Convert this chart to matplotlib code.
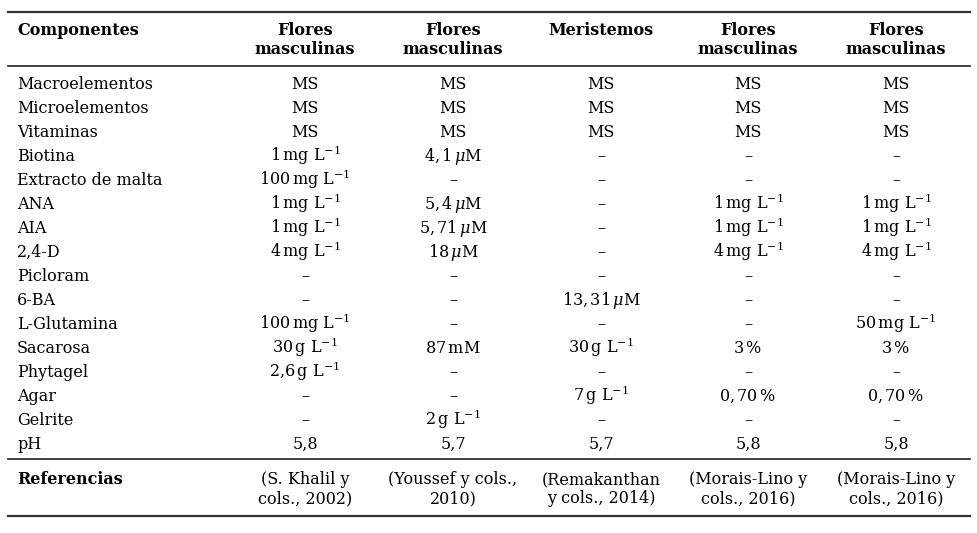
import matplotlib.pyplot as plt

plt.rcParams['font.family'] = ['DejaVu Serif']
plt.rcParams['mathtext.fontset'] = 'dejavuserif'
plt.rcParams['mathtext.default'] = 'regular'

headers = [["Flores", "masculinas"], ["Flores", "masculinas"], ["Meristemos"],
           ["Flores", "masculinas"], ["Flores", "masculinas"]]

componentes = ["Macroelementos", "Microelementos", "Vitaminas", "Biotina",
               "Extracto de malta", "ANA", "AIA", "2,4-D", "Picloram", "6-BA",
               "L-Glutamina", "Sacarosa", "Phytagel", "Agar", "Gelrite", "pH"]

D = "–"
MG = r"$\,$mg L$^{-1}$"
G = r"$\,$g L$^{-1}$"
UM = r"$\,\mathit{\mu}$M"
col1 = ["MS", "MS", "MS", "1" + MG, "100" + MG, "1" + MG, "1" + MG, "4" + MG,
        D, D, "100" + MG, "30" + G, "2,6" + G, D, D, "5,8"]
col2 = ["MS", "MS", "MS", r"4,$\,$1" + UM, D, r"5,$\,$4" + UM, r"5,$\,$71" + UM,
        "18" + UM, D, D, D, r"87$\,$mM", D, D, "2" + G, "5,7"]
col3 = ["MS", "MS", "MS", D, D, D, D, D, D, r"13,$\,$31" + UM, D, "30" + G,
        D, "7" + G, D, "5,7"]
col4 = ["MS", "MS", "MS", D, D, "1" + MG, "1" + MG, "4" + MG,
        D, D, D, r"3$\,$%", D, r"0,$\,$70$\,$%", D, "5,8"]
col5 = ["MS", "MS", "MS", D, D, "1" + MG, "1" + MG, "4" + MG,
        D, D, "50" + MG, r"3$\,$%", D, r"0,$\,$70$\,$%", D, "5,8"]
columnas = [col1, col2, col3, col4, col5]

referencias = [["(S. Khalil y", "cols., 2002)"], ["(Youssef y cols.,", "2010)"],
               ["(Remakanthan", "y cols., 2014)"], ["(Morais-Lino y", "cols., 2016)"],
               ["(Morais-Lino y", "cols., 2016)"]]

fig = plt.figure(figsize=(9.78, 5.33), dpi=100)
ax = fig.add_axes([0, 0, 1, 1])
ax.set_xlim(0, 978)
ax.set_ylim(533, 0)
ax.axis('off')

fs = 11.5
x_label = 17
x_cols = [305, 453, 601, 748, 896]
row0 = 89
step = 24

ax.plot([8, 970], [12, 12], color='#333', lw=1.6)
ax.plot([8, 970], [66, 66], color='#333', lw=1.3)
ax.plot([8, 970], [459, 459], color='#333', lw=1.3)
ax.plot([8, 970], [516, 516], color='#333', lw=1.6)

ax.text(x_label, 35, "Componentes", fontsize=fs, fontweight='bold', va='baseline')
for x, h in zip(x_cols, headers):
    for k, line in enumerate(h):
        ax.text(x, 35 + k * 19, line, fontsize=fs, fontweight='bold',
                ha='center', va='baseline')

for i, name in enumerate(componentes):
    y = row0 + i * step
    ax.text(x_label, y, name, fontsize=fs, va='baseline')
    for x, col in zip(x_cols, columnas):
        ax.text(x, y, col[i], fontsize=fs, ha='center', va='baseline')

ax.text(x_label, 484, "Referencias", fontsize=fs, fontweight='bold', va='baseline')
for x, r in zip(x_cols, referencias):
    for k, line in enumerate(r):
        ax.text(x, 484 + k * 19, line, fontsize=fs, ha='center', va='baseline')

fig.savefig("out.png", dpi=100)
